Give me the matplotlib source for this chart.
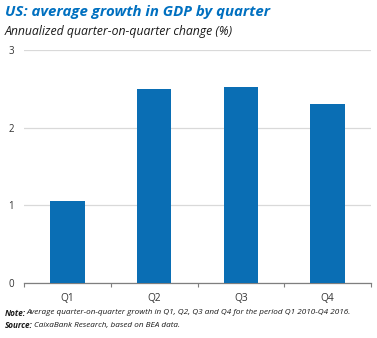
import numpy as np
import matplotlib.pyplot as plt

quarters = ["Q1", "Q2", "Q3", "Q4"]
growth = [1.05, 2.50, 2.52, 2.31]
yticks = [0, 1, 2, 3]

plt.rcParams["font.family"] = ["Open Sans", "DejaVu Sans"]

fig = plt.figure(figsize=(3.77, 3.38), dpi=100)
ax = fig.add_axes([24 / 377, 1 - 283 / 338, 347 / 377, 233 / 338])

x = np.arange(len(quarters))
ax.bar(x, growth, width=0.4, color="#0a6eb4", zorder=3)
ax.set_xlim(-0.5, 3.5)
ax.set_ylim(0, 3)
ax.set_yticks(yticks)
ax.set_xticks(x)
ax.set_xticklabels(quarters)
ax.set_xticks(np.arange(-0.5, 4, 1), minor=True)
ax.grid(axis="y", color="#d9d9d9", lw=0.9, zorder=0)
for s in ["top", "right", "left"]:
    ax.spines[s].set_visible(False)
ax.spines["bottom"].set_color("#7f7f7f")
ax.spines["bottom"].set_linewidth(0.9)
ax.tick_params(axis="y", length=0, labelsize=7, pad=7, colors="#333333")
ax.tick_params(axis="x", which="major", length=0, labelsize=7.3, pad=7, colors="#333333")
ax.tick_params(axis="x", which="minor", length=3, color="#7f7f7f", width=0.8)

fig.text(5 / 377, 1 - 12 / 338, "US: average growth in GDP by quarter", color="#0070c0",
         fontsize=10.8, fontweight="bold", style="italic", va="center", ha="left")
fig.text(5 / 377, 1 - 31 / 338, "Annualized quarter-on-quarter change (%)", color="#1a1a1a",
         fontsize=8.8, style="italic", va="center", ha="left")

# footnotes: bold label followed by regular italic text
r = fig.canvas.get_renderer()
for y, lab, txt, fs in [(313, "Note:", "Average quarter-on-quarter growth in Q1, Q2, Q3 and Q4 for the period Q1 2010-Q4 2016.", 5.9),
                        (326, "Source:", "CaixaBank Research, based on BEA data.", 5.9)]:
    t = fig.text(5 / 377, 1 - y / 338, lab, fontsize=fs, fontweight="bold", style="italic",
                 va="center", ha="left", color="#1a1a1a")
    bb = t.get_window_extent(r)
    fig.text((bb.x1 + 0.8) / 377, 1 - y / 338, txt, fontsize=fs, style="italic",
             va="center", ha="left", color="#1a1a1a")

fig.savefig("out.png", dpi=100)
